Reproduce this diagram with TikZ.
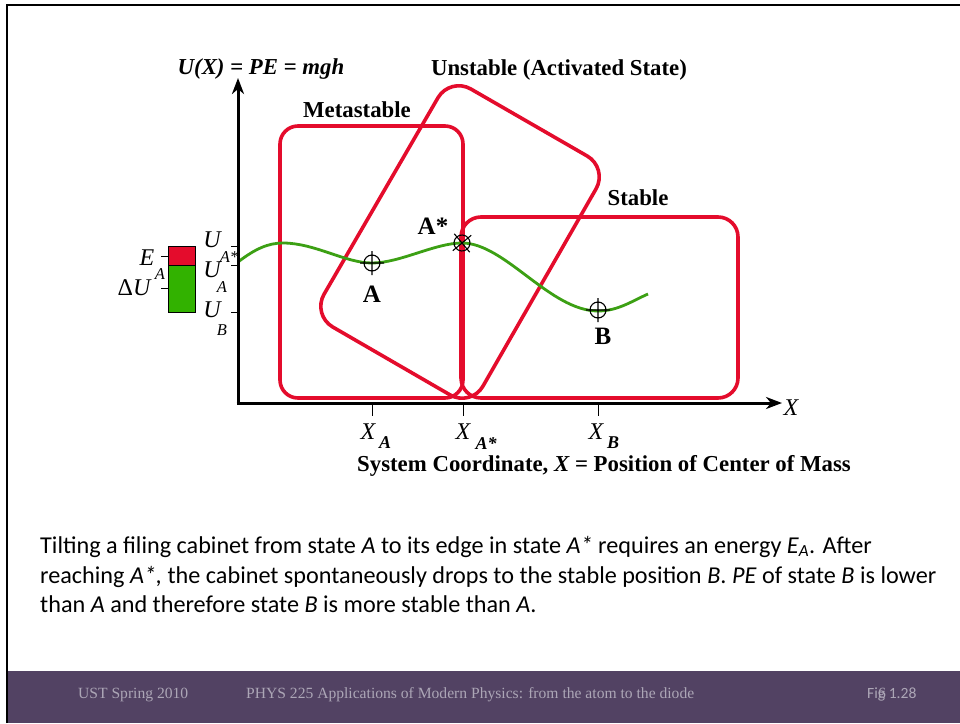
\documentclass[tikz,border=0pt]{standalone}
\usepackage{fontspec}
\setmainfont{Liberation Serif}
\newfontfamily\calfont{Carlito}
\usetikzlibrary{arrows.meta}
\definecolor{rd}{RGB}{228,12,44}
\definecolor{crv}{RGB}{60,160,20}
\definecolor{bargreen}{RGB}{50,178,0}
\definecolor{foot}{RGB}{82,66,99}
\definecolor{foottxt}{RGB}{172,166,182}
\tikzset{
  redbox/.style={draw=rd, line width=3.6pt, rounded corners=20pt},
  axisline/.style={line width=3pt, -{Stealth[length=16pt,width=12pt,inset=5pt]}},
  tickline/.style={line width=1pt},
  lbl/.style={inner sep=0pt, font=\fontsize{22.8}{26}\selectfont\bfseries},
  big/.style={inner sep=0pt, font=\fontsize{25}{28}\selectfont\bfseries},
  ital/.style={inner sep=0pt, font=\fontsize{24}{28}\selectfont\itshape},
  sub/.style={inner sep=0pt, font=\fontsize{16.5}{19}\selectfont\itshape},
  xsub/.style={inner sep=0pt, font=\fontsize{18}{20}\selectfont\bfseries\itshape},
  para/.style={inner sep=0pt, anchor=base west, font=\calfont\fontsize{24.2}{29}\selectfont},
  foottext/.style={inner sep=0pt, text=foottxt, font=\fontsize{15.6}{18}\selectfont},
  marker/.style={line width=1.1pt}
}
\begin{document}
\begin{tikzpicture}[x=1pt,y=-1pt]
\useasboundingbox (0,0) rectangle (960,723);
\fill[white] (0,0) rectangle (960,723);
% frame
\fill[foot] (7,671) rectangle (960,723);
\draw[line width=2.5pt] (7,723) -- (7,5) -- (960,5);

% boxes
\draw[redbox, rounded corners=18pt] (280,126) rectangle (463,398);
\draw[redbox] (461,217) rectangle (738,398);
\draw[redbox, rounded corners=24pt] (450,77) -- (608,168) -- (471,407) -- (312,315) -- cycle;

% curve
\draw[crv, line width=2.8pt] (238,262) .. controls (255,249) and (268,243) .. (283,243)
  .. controls (315,243) and (345,263) .. (372,263)
  .. controls (400,263) and (435,243) .. (462,243)
  .. controls (505,243) and (550,311) .. (598,311)
  .. controls (618,311) and (632,301) .. (648,294);

% axes
\coordinate (O) at (238,403);
\coordinate (Ytop) at (238,78);
\coordinate (Xend) at (782,403);
\draw[axisline] (238,404.5) -- (Ytop);
\draw[axisline] (236.5,403) -- (Xend);

% x ticks
\coordinate (xa) at (372,403);
\coordinate (xas) at (463,403);
\coordinate (xb) at (598,403);
\foreach \c in {xa,xas,xb} \draw[tickline] (\c) -- ++(0,13);
% y ticks
\coordinate (uas) at (238,246);
\coordinate (ua) at (238,265);
\coordinate (ub) at (238,312);
\foreach \c in {uas,ua,ub} \draw[tickline] (\c) -- ++(-7,0);

% energy bar
\fill[rd] (168,246) rectangle (195,265);
\fill[bargreen] (168,265) rectangle (195,312);
\draw[line width=0.8pt] (168,246) rectangle (195,312) (168,265) -- (195,265);
\coordinate (ea) at (168,256);
\coordinate (du) at (168,288);
\draw[tickline] (ea) -- ++(-7,0);
\draw[tickline] (du) -- ++(-7,0);

% markers
\draw[marker, shift={(372,263)}] (-12,0) -- (12,0) (0,-12) -- (0,12) (0,0) circle (8);
\draw[marker, shift={(462,243)}, rotate=40] (-12,0) -- (12,0) (0,-12) -- (0,12) (0,0) circle (8);
\draw[marker, shift={(598,310)}] (-12,0) -- (12,0) (0,-12) -- (0,12) (0,0) circle (8);

% labels
\node[lbl] (tU) at (261,69) {\bfseries\itshape U(X)\upshape\ = \itshape PE\upshape\ = \itshape mgh};
\node[lbl] (tUn) at (559,70) {Unstable (Activated State)};
\node[lbl] (tMeta) at (357,110) {Metastable};
\node[lbl] (tStab) at (638,198) {Stable};
\node[big] (tA) at (372,294) {A};
\node[big] (tAs) at (433,226) {A*};
\node[big] (tB) at (603,336) {B};
\node[ital] (tX) at (791,408) {X};

\node[ital] (xA) at (368,432) {X};
\node[xsub] (xAs1) at (385,443) {A};
\node[ital] (xAs) at (463,432) {X};
\node[xsub] (xAs2) at (486,443) {A*};
\node[ital] (xB) at (596,432) {X};
\node[xsub] (xBs) at (613,443) {B};
\node[lbl] (tSys) at (604,466) {System Coordinate, \itshape X\upshape\ = Position of Center of Mass};

\node[ital] (uU1) at (212,240) {U};
\node[sub] (uU1s) at (229,257) {A*};
\node[ital] (uU2) at (212,270) {U};
\node[sub] (uU2s) at (222,287) {A};
\node[ital] (uU3) at (212,310) {U};
\node[sub] (uU3s) at (222,330) {B};

\node[ital] (eE) at (147,258) {E};
\node[sub] (eEs) at (160,274) {A};
\node[ital] (dU) at (134,288) {\upshape Δ\itshape U};

% paragraph
\node[para] (p1) at (40,553) {Tilting a filing cabinet from state \textit{A} to its edge in state \textit{A*} requires an energy \textit{E}\textsubscript{\textit{A}}. After};
\node[para] (p2) at (40,583) {reaching \textit{A*,} the cabinet spontaneously drops to the stable position \textit{B}. \textit{PE} of state \textit{B} is lower};
\node[para] (p3) at (40,612) {than \textit{A} and therefore state \textit{B} is more stable than \textit{A}.};

% footer
\node[foottext, anchor=base west] (f1) at (78,698) {UST Spring 2010};
\node[foottext, anchor=base west] (f2) at (246,698) {PHYS 225 Applications of Modern Physics: from the atom to the diode};
\node[foottext, anchor=base west, font=\calfont\fontsize{15.6}{18}\selectfont] (f3) at (867,698) {Fig 1.28};
\node[foottext, anchor=base west] (f4) at (878,698) {6};
\end{tikzpicture}
\end{document}
